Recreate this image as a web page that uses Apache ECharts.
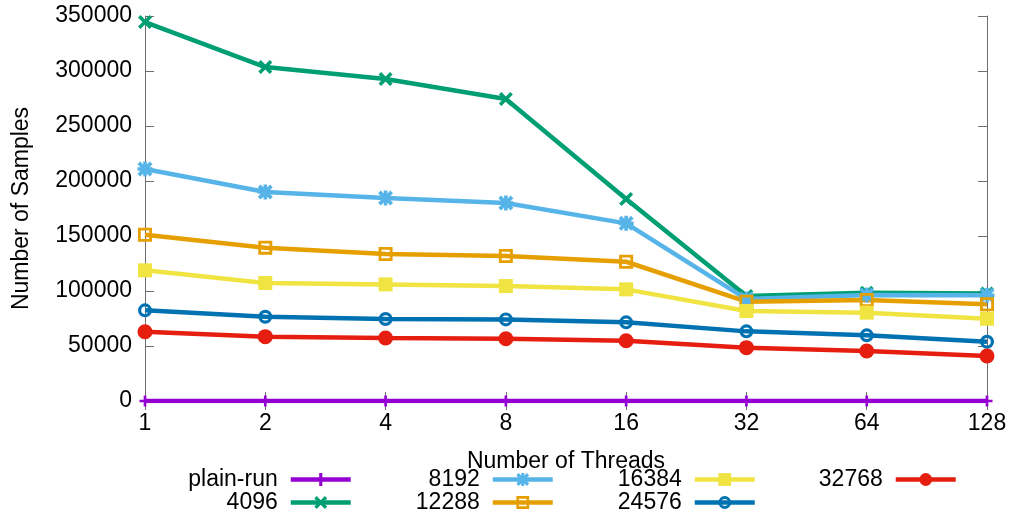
<!DOCTYPE html>
<html>
<head>
<meta charset="utf-8">
<script src="https://cdn.jsdelivr.net/npm/echarts@6/dist/echarts.min.js"></script>
<style>
  html, body { margin: 0; padding: 0; background: #fff; }
  #chart { width: 1014px; height: 519px; }
</style>
</head>
<body>
<div id="chart"></div>
<script>
// Thread counts (log2-spaced categories)
const threads = ['1', '2', '4', '8', '16', '32', '64', '128'];

// Sample counts per buffer size
const plainRun = [0, 0, 0, 0, 0, 0, 0, 0];
const s4096  = [344500, 303600, 292700, 274500, 183600, 95500, 98500, 97800];
const s8192  = [210900, 190000, 184500, 180000, 161500, 92700, 96400, 96200];
const s12288 = [151200, 139400, 133600, 131800, 126600, 90300, 91800, 87900];
const s16384 = [118800, 107300, 106000, 104500, 101500, 81800, 80300, 74800];
const s24576 = [82400, 76600, 74500, 74200, 71500, 63300, 59700, 53900];
const s32768 = [63000, 58500, 57300, 56600, 54800, 48500, 45500, 40900];

const yMin = 0, yMax = 350000, yStep = 50000;

// gnuplot-style point shapes
const SYM_PLUS = 'path://M3.8,0H6.2V3.8H10V6.2H6.2V10H3.8V6.2H0V3.8H3.8Z';
const SYM_X = 'path://M1.8,0L5,3.2L8.2,0L10,1.8L6.8,5L10,8.2L8.2,10L5,6.8L1.8,10L0,8.2L3.2,5L0,1.8Z';
const SYM_STAR = SYM_X + ' M3.8,0H6.2V3.8H10V6.2H6.2V10H3.8V6.2H0V3.8H3.8Z';
const SYM_OSQUARE = 'path://M0,0H10V10H0Z M2,2V8H8V2Z';
const SYM_OCIRCLE = 'path://M5,0A5,5,0,1,1,5,10A5,5,0,1,1,5,0Z M5,2.3A2.7,2.7,0,1,0,5,7.7A2.7,2.7,0,1,0,5,2.3Z';

const FONT = 'Liberation Sans, Arial, sans-serif';
const FS = 23;
const AXIS_COLOR = '#6e6e6e';

function line(name, data, color, symbol, size) {
  return {
    name, type: 'line', data,
    symbol, symbolSize: size,
    lineStyle: { color, width: 4.5 },
    itemStyle: { color, borderWidth: 0 },
    emphasis: { disabled: true }
  };
}

const series = [
  line('plain-run', plainRun, '#9400d3', SYM_PLUS, 11),
  line('4096', s4096, '#009e73', SYM_X, 14),
  line('8192', s8192, '#56b4e9', SYM_STAR, 15),
  line('12288', s12288, '#e69f00', SYM_OSQUARE, 14),
  line('16384', s16384, '#f0e442', 'rect', 14),
  line('24576', s24576, '#0072b2', SYM_OCIRCLE, 14),
  line('32768', s32768, '#e51e10', 'circle', 15)
];

// Key below the plot: column-major, text right-aligned before the sample
const keyCols = [['plain-run', '4096'], ['8192', '12288'], ['16384', '24576'], ['32768']];
const keyRight = [661, 459, 257, 56];
const keyTop = [468, 491];
const legends = [];
keyCols.forEach((col, ci) => {
  col.forEach((name, ri) => {
    legends.push({
      data: [name],
      right: keyRight[ci],
      top: keyTop[ri],
      padding: 0,
      align: 'right',
      itemWidth: 60,
      itemHeight: 16,
      selectedMode: false,
      lineStyle: { width: 4.5 },
      textStyle: { fontFamily: FONT, fontSize: FS, color: '#000', lineHeight: 22, padding: [0, 8, 0, 0] }
    });
  });
});

const chart = echarts.init(document.getElementById('chart'), null, { renderer: 'canvas' });
chart.setOption({
  animation: false,
  backgroundColor: '#fff',
  grid: { left: 145, right: 27, top: 16, bottom: 118 },
  legend: legends,
  xAxis: [{
    type: 'category', data: threads, boundaryGap: false,
    name: 'Number of Threads', nameLocation: 'middle', nameGap: 49,
    nameTextStyle: { fontFamily: FONT, fontSize: FS, color: '#000' },
    axisLine: { lineStyle: { color: AXIS_COLOR, width: 1 } },
    axisTick: { inside: true, length: 9, alignWithLabel: true, lineStyle: { color: AXIS_COLOR } },
    axisLabel: { fontFamily: FONT, fontSize: FS, color: '#000', margin: 11 },
    splitLine: { show: false }
  }, {
    type: 'category', data: threads, boundaryGap: false, position: 'top',
    axisLine: { lineStyle: { color: AXIS_COLOR, width: 1 } },
    axisTick: { inside: true, length: 9, lineStyle: { color: AXIS_COLOR } },
    axisLabel: { show: false }, splitLine: { show: false }
  }],
  yAxis: [{
    type: 'value', min: yMin, max: yMax, interval: yStep,
    name: 'Number of Samples', nameLocation: 'middle', nameGap: 112,
    nameTextStyle: { fontFamily: FONT, fontSize: FS, color: '#000' },
    axisLine: { show: true, lineStyle: { color: AXIS_COLOR, width: 1 } },
    axisTick: { show: true, inside: true, length: 9, lineStyle: { color: AXIS_COLOR } },
    axisLabel: { fontFamily: FONT, fontSize: FS, color: '#000', margin: 13, formatter: v => String(v) },
    splitLine: { show: false }
  }, {
    type: 'value', min: yMin, max: yMax, interval: yStep, position: 'right',
    axisLine: { show: true, lineStyle: { color: AXIS_COLOR, width: 1 } },
    axisTick: { show: true, inside: true, length: 9, lineStyle: { color: AXIS_COLOR } },
    axisLabel: { show: false }, splitLine: { show: false }
  }],
  series
});
</script>
</body>
</html>
